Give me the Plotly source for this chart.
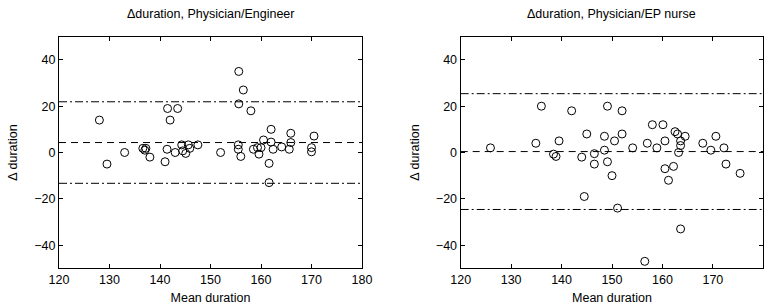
import plotly.graph_objects as go

# ---- data ----
left_x = [128.0, 129.5, 133.0, 136.6, 137.2, 137.0, 138.0, 141.0, 141.4, 141.5,
          142.0, 143.5, 143.0, 144.3, 145.6, 144.5, 145.1, 145.9, 147.5, 152.0,
          155.5, 155.5, 156.0, 155.6, 155.6, 156.5, 158.0, 158.5, 159.3, 160.0,
          159.6, 160.5, 161.6, 161.6, 162.0, 162.0, 162.4, 164.1, 165.6, 165.9,
          165.9, 170.0, 170.0, 170.5]
left_y = [14, -5, 0, 1.8, 1.8, 1, -2, -4, 1.4, 19,
          14, 19, 0, 3.3, 3.3, 0.7, -0.4, 1.8, 3.3, 0,
          3.3, 1.4, -1.7, 35, 21, 27, 18, 1.4, 2.1, 2.1,
          -0.7, 5.4, -4.7, -13, 10, 4.5, 1.4, 2.4, 1.4, 8.3,
          4.3, 2.1, 0.3, 7.1]

right_x = [125.9, 134.9, 136.0, 139.5, 138.4, 138.9, 142.0, 144.0, 144.5, 145.0,
           146.5, 146.5, 148.5, 148.5, 149.1, 149.1, 150.0, 150.5, 151.1, 152.0,
           152.0, 154.1, 156.5, 157.0, 158.0, 158.9, 160.1, 160.5, 160.5, 161.2,
           162.2, 162.5, 163.0, 163.2, 163.6, 163.6, 163.6, 164.5, 168.0, 169.6,
           170.6, 172.2, 172.6, 175.4]
right_y = [2, 4, 20, 5, -0.7, -1.7, 18, -2, -19, 8,
           -0.5, -5, 1, 7, 20, -4, -10, 5, -24, 18,
           8, 2, -47, 4, 12, 2, 12, 5, -7, -12,
           -6, 9, 8, 0, 5, 3, -33, 7, 4, 1,
           7, 2, -5, -9]

left_mean, left_upper, left_lower = 4.3, 21.9, -13.3
right_mean, right_upper, right_lower = 0.4, 25.4, -24.6

titles = ["\u0394duration, Physician/Engineer", "\u0394duration, Physician/EP nurse"]
x_label = "Mean duration"
y_label = "\u0394 duration"
x_ticks = [120, 130, 140, 150, 160, 170, 180]
y_ticks = [-40, -20, 0, 20, 40]
x_range = [120, 180]
y_range = [-50, 50]

FONT = "Liberation Sans, Arial, sans-serif"
FS = 12.5

fig = go.Figure()

panels = [
    (left_x, left_y, left_mean, left_upper, left_lower, "x", "y", [59/773, 362/773]),
    (right_x, right_y, right_mean, right_upper, right_lower, "x2", "y2", [460.7/773, 763.3/773]),
]
ydom = [36.7/305, 268.3/305]

for i, (xs, ys, m, up, lo, xa, ya, xdom) in enumerate(panels):
    fig.add_trace(go.Scatter(
        x=xs, y=ys, mode="markers", xaxis=xa, yaxis=ya, showlegend=False,
        marker=dict(symbol="circle-open", size=8, color="black", line=dict(width=1)),
        cliponaxis=True,
    ))
    xref_dom = xa + " domain"
    for val, dash in [(m, "7px,5px"), (up, "8px,3px,2px,3px"), (lo, "8px,3px,2px,3px")]:
        fig.add_shape(type="line", xref=xref_dom, yref=ya, x0=0, x1=1, y0=val, y1=val,
                      line=dict(color="black", width=1, dash=dash), layer="below")
    suffix = "" if i == 0 else "2"
    axis_common = dict(showline=True, linecolor="black", linewidth=1.3, mirror="ticks",
                       ticks="inside", ticklen=4, tickwidth=1, tickcolor="black",
                       showgrid=False, zeroline=False, automargin=False,
                       tickfont=dict(family=FONT, size=FS, color="black"))
    fig.update_layout(**{
        "xaxis" + suffix: dict(domain=xdom, range=x_range, tickvals=x_ticks,
                               anchor="y" + suffix,
                               title=dict(text=x_label, standoff=7,
                                          font=dict(family=FONT, size=FS, color="black")),
                               **axis_common),
        "yaxis" + suffix: dict(domain=ydom, range=y_range, tickvals=y_ticks,
                               anchor="x" + suffix,
                               title=dict(text=y_label, standoff=13,
                                          font=dict(family=FONT, size=FS, color="black")),
                               **axis_common),
    })
    cx = (xdom[0] + xdom[1]) / 2
    fig.add_annotation(text=titles[i], xref="paper", yref="paper", x=cx, y=(305 - 14) / 305,
                       xanchor="center", yanchor="middle", showarrow=False,
                       font=dict(family=FONT, size=FS, color="black"))

fig.update_layout(width=773, height=305, margin=dict(l=0, r=0, t=0, b=0),
                  template="none", hovermode=False,
                  paper_bgcolor="white", plot_bgcolor="white",
                  font=dict(family=FONT, size=FS, color="black"))

fig.write_html("out.html", config={"displayModeBar": False},
               post_script="document.body.style.margin='0';document.body.style.overflow='hidden';")
